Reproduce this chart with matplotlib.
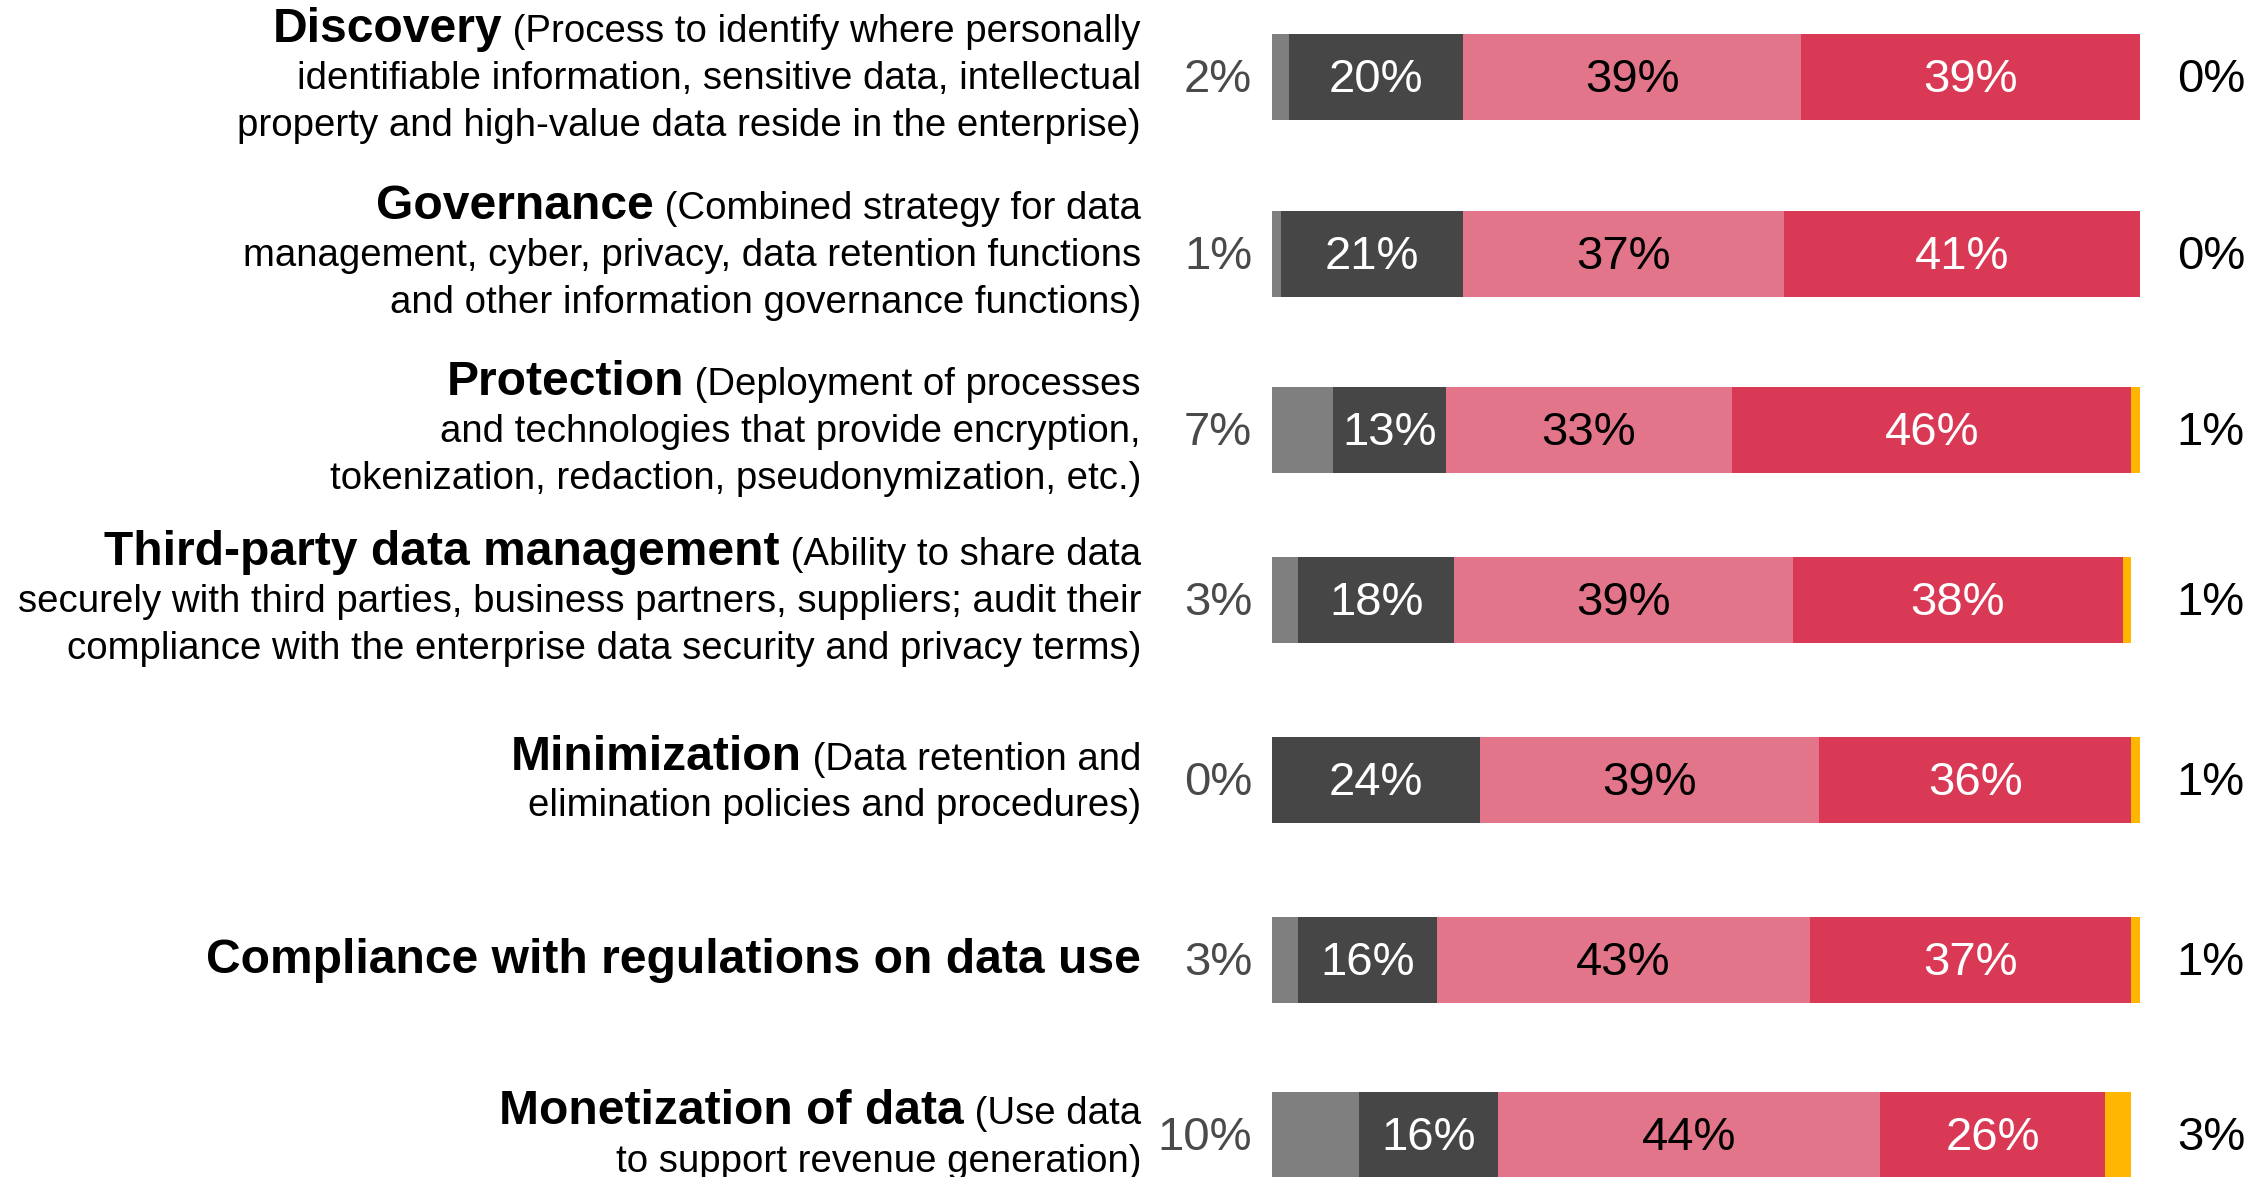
import numpy as np
import matplotlib
matplotlib.use("Agg")
import matplotlib.pyplot as plt
from matplotlib import transforms

plt.rcParams['font.family'] = ['Liberation Sans', 'DejaVu Sans']

# data
titles = ["Discovery", "Governance", "Protection", "Third-party data management",
          "Minimization", "Compliance with regulations on data use", "Monetization of data"]
descriptions = [
    [" (Process to identify where personally",
     "identifiable information, sensitive data, intellectual",
     "property and high-value data reside in the enterprise)"],
    [" (Combined strategy for data",
     "management, cyber, privacy, data retention functions",
     "and other information governance functions)"],
    [" (Deployment of processes",
     "and technologies that provide encryption,",
     "tokenization, redaction, pseudonymization, etc.)"],
    [" (Ability to share data",
     "securely with third parties, business partners, suppliers; audit their",
     "compliance with the enterprise data security and privacy terms)"],
    [" (Data retention and",
     "elimination policies and procedures)"],
    [""],
    [" (Use data",
     "to support revenue generation)"],
]
grey_vals = [2, 1, 7, 3, 0, 3, 10]
dark_vals = [20, 21, 13, 18, 24, 16, 16]
pink_vals = [39, 37, 33, 39, 39, 43, 44]
red_vals = [39, 41, 46, 38, 36, 37, 26]
yellow_vals = [0, 0, 1, 1, 1, 1, 3]

# layout (pixels)
W, H = 2261, 1177
BAR_LEFT, BAR_W = 1272, 868
row_y = [77, 254, 430, 600, 780, 960, 1135]
bar_h = 86
label_right = 1141
line_gap = 47

c_grey, c_dark, c_pink, c_red, c_yellow = "#7f7f7f", "#464646", "#e27589", "#d93954", "#ffb600"

fig = plt.figure(figsize=(W / 100, H / 100), dpi=100)
ax = fig.add_axes([BAR_LEFT / W, 0, BAR_W / W, 1])
ax.set_xlim(0, 100)
ax.set_ylim(H, 0)
ax.axis("off")

series = [(grey_vals, c_grey, None), (dark_vals, c_dark, "white"),
          (pink_vals, c_pink, "black"), (red_vals, c_red, "white"),
          (yellow_vals, c_yellow, None)]
left = np.zeros(len(titles))
for vals, col, txtcol in series:
    vals = np.array(vals, dtype=float)
    ax.barh(row_y, vals, left=left, height=bar_h, color=col, linewidth=0)
    if txtcol:
        for y, l, v in zip(row_y, left, vals):
            ax.text(l + v / 2, y + 15, f"{int(v)}%", ha="center", va="baseline",
                    color=txtcol, fontsize=34)
    left = left + vals

# x in inches from figure left, y in data (pixel rows)
trans_x = transforms.blended_transform_factory(fig.dpi_scale_trans, ax.transData)

for y, g, yv in zip(row_y, grey_vals, yellow_vals):
    ax.text(1252 / 100, y + 15, f"{g}%", transform=trans_x, ha="right", va="baseline",
            color="#4a4a4a", fontsize=34)
    ax.text(2245 / 100, y + 15, f"{yv}%", transform=trans_x, ha="right", va="baseline",
            color="black", fontsize=34)

renderer = fig.canvas.get_renderer()
for y, title, lines in zip(row_y, titles, descriptions):
    n = len(lines)
    shift = 12 if n == 3 else 13
    for i, line in enumerate(lines):
        base = y + shift + (i - (n - 1) / 2) * line_gap
        t = ax.text(label_right / 100, base, line, transform=trans_x, ha="right",
                    va="baseline", color="black", fontsize=27.6)
        if i == 0:
            if line:
                x0 = t.get_window_extent(renderer).x0
            else:
                x0 = label_right
            ax.text(x0 / 100, base, title, transform=trans_x, ha="right",
                    va="baseline", color="black", fontsize=34.6, fontweight="bold")

fig.savefig("out.png", dpi=100)
